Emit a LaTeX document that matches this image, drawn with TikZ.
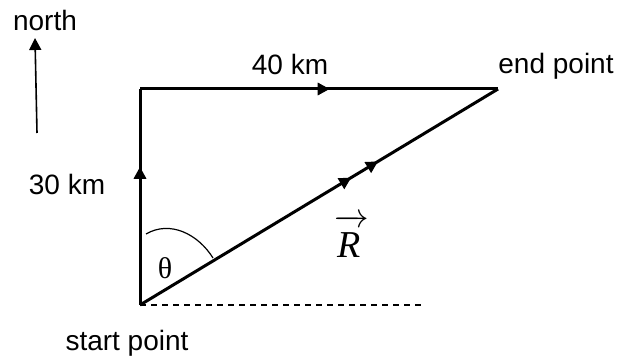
\documentclass[tikz,border=0pt]{standalone}
\usepackage{amsmath}
\usepackage{fontspec}
\setmainfont{Liberation Sans}
\newfontfamily\tnr{Liberation Serif}
\usetikzlibrary{arrows.meta,positioning,calc,decorations.markings}

\begin{document}
\begin{tikzpicture}[x=0.5pt,y=-0.5pt,
  lbl/.style={font=\fontsize{14}{16}\selectfont,inner sep=0pt},
  leg/.style={line width=1.5pt,line join=miter},
  mid/.style={postaction={decorate,decoration={markings,
    mark=at position #1 with {\arrow{Triangle[length=6pt,width=6pt]}}}}},
  dbl/.style={postaction={decorate,decoration={markings,
    mark=at position 0.59 with {\arrow{Triangle[length=6pt,width=6pt]}},
    mark=at position 0.665 with {\arrow{Triangle[length=6pt,width=6pt]}}}}}]
  \useasboundingbox (0,0) rectangle (630,357);
  % the three points of the trip
  \coordinate (start) at (140,305);
  \coordinate (corner) at (140,89);
  \coordinate (endpt) at (498,89);
  \coordinate (east) at (425,305);
  % legs and resultant
  \draw[leg,mid=0.64] (start) -- (corner);
  \draw[leg,mid=0.53] (corner) -- (endpt);
  \draw[leg,dbl] (start) -- (endpt);
  \draw[line width=0.7pt,dash pattern=on 3pt off 2.5pt] (start) -- (east);
  % angle
  \draw[line width=0.6pt] (146,234) .. controls (170,220) and (198,234) .. (213,258);
  % north arrow
  \coordinate (ntail) at (37,133);
  \coordinate (nhead) at (35,38);
  \draw[line width=0.8pt,-{Triangle[length=6pt,width=6pt]}] (ntail) -- (nhead);
  % labels
  \node[lbl] (north) at (45,20) {north};
  \node[lbl] (dist40) at (290,64) {40 km};
  \node[lbl] (endlbl) at (556,66) {end point};
  \node[lbl] (dist30) at (67,184) {30 km};
  \node[lbl] (startlbl) at (127,343) {start point};
  \node[inner sep=0pt,font=\fontsize{15}{17}\tnr] (theta) at (165,268) {θ};
  \node[inner sep=0pt,font=\fontsize{19}{21}\selectfont] (res) at (352,236)
    {$\overrightarrow{\rule{0pt}{15pt}\text{\tnr\itshape R\,}}$};
\end{tikzpicture}
\end{document}
